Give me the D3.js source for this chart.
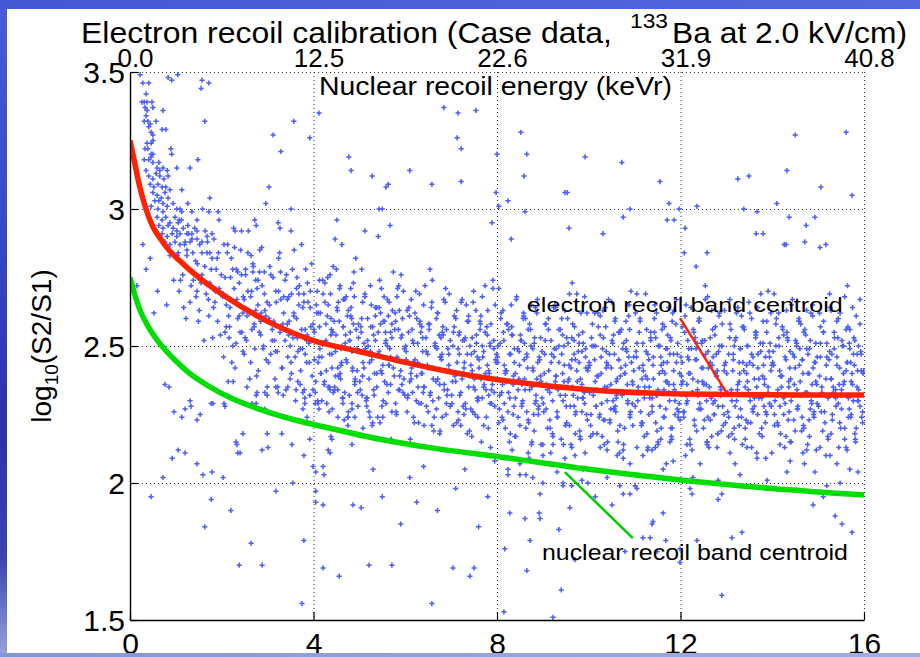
<!DOCTYPE html>
<html><head><meta charset="utf-8">
<script src="https://cdn.jsdelivr.net/npm/d3@7"></script>
<style>html,body{margin:0;padding:0;background:#fff;overflow:hidden}svg{display:block}text{font-family:"Liberation Sans",Arial,Helvetica,sans-serif;fill:#000}</style>
</head><body><svg id="c" width="920" height="657"></svg>
<script>
// ---------- data ----------
const xTicks=[0,4,8,12,16];
const xTickLabels=["0","4","8","12","16"];
const topTickLabels=["0.0","12.5","22.6","31.9","40.8"];
const yTicks=[1.5,2,2.5,3,3.5];
const yTickLabels=["1.5","2","2.5","3","3.5"];
const gridX=[4,8,12,16];
const gridY=[2,2.5,3,3.5];

const erCentroidX=[0,0.1,0.2,0.33,0.5,0.65,0.8,1.09,1.5,2,3,4,5,6,7,8.07,10,12,14,16];
const erCentroidY=[3.25,3.17,3.09,3.01,2.935,2.895,2.86,2.81,2.75,2.69,2.59,2.52,2.48,2.44,2.405,2.376,2.34,2.325,2.322,2.321];
const nrCentroidX=[0,0.1,0.22,0.4,0.6,0.8,1.0,1.3,1.7,2.2,2.9,3.64,4.36,5.23,6.5,8.07,10,12,14,16];
const nrCentroidY=[2.75,2.69,2.63,2.57,2.52,2.48,2.445,2.40,2.355,2.31,2.265,2.228,2.20,2.167,2.13,2.095,2.05,2.011,1.98,1.956];

const erLabel={text:"electron recoil band centroid",x:8.65,y:2.624,len:316,size:21};
const nrLabel={text:"nuclear recoil band centroid",x:8.98,y:1.719,len:306,size:22};
const erPointer=[[11.99,2.602],[13.01,2.328]];
const nrPointer=[[9.48,2.040],[10.96,1.799]];

const scatterRise=[[0.22,3.49],[0.28,3.46],[0.41,3.46],[0.35,3.42],[0.26,3.39],[0.31,3.39],[0.37,3.39],[0.48,3.39],[0.33,3.37],[0.37,3.36],[0.50,3.37],[0.35,3.34],[0.39,3.32],[0.31,3.32],[0.44,3.31],[0.57,3.32],[0.41,3.30],[0.46,3.28],[0.50,3.27],[0.37,3.24],[0.46,3.24],[0.50,3.25],[0.33,3.22],[0.39,3.22],[0.46,3.20],[0.50,3.20],[0.31,3.18],[0.41,3.18],[0.46,3.19],[0.50,3.17],[0.59,3.15],[0.63,3.17],[0.65,3.14],[0.72,3.15],[0.81,3.14],[0.35,3.14],[0.41,3.12],[0.50,3.11],[0.57,3.13],[0.65,3.12],[0.74,3.11],[0.83,3.12],[0.44,3.09],[0.52,3.08],[0.61,3.09],[0.70,3.08],[0.78,3.08],[0.87,3.07],[0.50,3.06],[0.59,3.05],[0.68,3.04],[0.76,3.06],[0.54,3.03],[0.63,3.03],[0.72,3.02],[0.83,3.04],[0.46,3.01],[0.61,3.00],[0.72,2.99],[0.81,3.01],[0.94,3.02],[1.02,3.00],[1.09,3.00],[1.13,2.99],[0.59,2.97],[0.70,2.96],[0.78,2.97],[0.87,2.95],[0.98,2.97],[1.07,2.96],[0.63,2.94],[0.72,2.93],[0.83,2.94],[0.94,2.93],[1.02,2.92],[1.16,2.93],[1.26,2.94],[1.35,2.99],[0.70,2.91],[0.81,2.90],[0.92,2.91],[1.02,2.90],[1.09,2.91],[1.24,2.91],[1.35,2.91],[1.46,2.92],[0.76,2.88],[0.87,2.87],[0.98,2.88],[1.09,2.87],[1.20,2.88],[1.31,2.88],[1.46,2.89],[1.57,2.88],[1.68,2.90],[1.79,2.91],[0.44,2.82],[0.87,2.83],[1.05,2.84],[1.24,2.83],[1.37,2.84],[1.57,2.84],[1.74,2.84],[1.90,2.82],[0.28,2.87],[0.15,2.72],[0.35,2.78],[0.60,2.70],[0.80,2.65],[0.95,2.74],[0.52,2.62]];

const scatterBandA=[[1.03,2.83],[1.07,2.70],[1.12,2.96],[1.15,2.76],[1.19,2.87],[1.22,2.60],[1.26,3.02],[1.29,2.78],[1.31,2.66],[1.35,2.89],[1.38,2.74],[1.41,2.93],[1.44,2.68],[1.47,2.80],[1.49,2.59],[1.52,2.87],[1.55,2.73],[1.58,3.00],[1.61,2.52],[1.63,2.79],[1.66,2.69],[1.69,2.88],[1.72,2.61],[1.74,2.73],[1.77,2.78],[1.80,2.53],[1.83,2.89],[1.85,2.66],[1.88,2.78],[1.91,2.59],[1.94,2.71],[1.97,2.54],[1.05,2.95],[1.17,2.64],[1.24,2.85],[1.33,2.72],[1.43,2.81],[1.51,2.63],[1.57,2.76],[1.64,2.92],[1.71,2.67],[1.79,2.82],[1.86,2.70],[1.93,2.84],[1.10,2.74],[1.28,2.91],[1.46,2.70],[1.68,2.84],[1.82,2.64],[1.99,2.76],
[2.03,2.69],[2.07,2.55],[2.12,2.84],[2.15,2.61],[2.19,2.75],[2.22,2.44],[2.26,2.93],[2.29,2.66],[2.31,2.51],[2.35,2.77],[2.38,2.61],[2.41,2.85],[2.44,2.55],[2.47,2.68],[2.49,2.47],[2.52,2.78],[2.55,2.61],[2.58,2.92],[2.61,2.38],[2.63,2.68],[2.66,2.56],[2.69,2.79],[2.72,2.49],[2.74,2.63],[2.77,2.71],[2.80,2.41],[2.83,2.85],[2.85,2.59],[2.88,2.72],[2.91,2.50],[2.94,2.63],[2.97,2.45],[2.05,2.87],[2.17,2.57],[2.24,2.78],[2.33,2.67],[2.43,2.76],[2.51,2.53],[2.57,2.70],[2.64,2.83],[2.71,2.57],[2.79,2.74],[2.86,2.62],[2.93,2.77],[2.10,2.65],[2.28,2.86],[2.46,2.62],[2.68,2.77],[2.82,2.55],[2.99,2.66],
[3.03,2.60],[3.07,2.47],[3.12,2.75],[3.15,2.52],[3.19,2.66],[3.22,2.35],[3.26,2.84],[3.29,2.57],[3.31,2.42],[3.35,2.68],[3.38,2.52],[3.41,2.76],[3.44,2.46],[3.47,2.59],[3.49,2.38],[3.52,2.69],[3.55,2.53],[3.58,2.85],[3.61,2.30],[3.63,2.60],[3.66,2.48],[3.69,2.72],[3.72,2.41],[3.74,2.56],[3.77,2.64],[3.80,2.34],[3.83,2.78],[3.85,2.52],[3.88,2.66],[3.91,2.44],[3.94,2.57],[3.97,2.39],[3.05,2.79],[3.17,2.48],[3.24,2.70],[3.33,2.58],[3.43,2.67],[3.51,2.44],[3.57,2.62],[3.64,2.75],[3.71,2.49],[3.79,2.66],[3.86,2.54],[3.93,2.70],[3.10,2.56],[3.28,2.77],[3.46,2.54],[3.68,2.69],[3.82,2.47],[3.99,2.58]];

const scatterBandB=[[4.02,2.45],[4.06,2.65],[4.09,2.30],[4.13,2.57],[4.16,2.40],[4.20,2.74],[4.23,2.36],[4.27,2.52],[4.30,2.61],[4.34,2.26],[4.37,2.69],[4.40,2.47],[4.42,2.55],[4.46,2.34],[4.50,2.78],[4.53,2.42],[4.56,2.59],[4.59,2.38],[4.62,2.50],[4.65,2.67],[4.67,2.23],[4.70,2.54],[4.73,2.44],[4.76,2.63],[4.78,2.32],[4.81,2.71],[4.84,2.48],[4.87,2.58],[4.90,2.37],[4.92,2.82],[4.95,2.41],[4.98,2.53],[4.04,2.29],[4.11,2.62],[4.18,2.46],[4.25,2.73],[4.32,2.35],[4.39,2.56],[4.48,2.39],[4.54,2.66],[4.60,2.43],[4.69,2.51],[4.75,2.21],[4.83,2.60],[4.89,2.68],[4.96,2.33],[4.14,2.49],[4.36,2.76],[4.58,2.40],[4.80,2.55],
[4.01,2.56],[4.05,2.37],[4.08,2.70],[4.12,2.46],[4.15,2.62],[4.18,2.30],[4.21,2.51],[4.25,2.66],[4.28,2.41],[4.31,2.75],[4.35,2.35],[4.38,2.54],[4.41,2.27],[4.45,2.59],[4.48,2.48],[4.51,2.64],[4.55,2.39],[4.58,2.72],[4.61,2.44],[4.65,2.57],[4.68,2.33],[4.71,2.68],[4.75,2.24],[4.78,2.52],[4.81,2.61],[4.85,2.42],[4.88,2.77],[4.91,2.38],[4.95,2.49],[4.98,2.58],
[5.03,2.57],[5.07,2.39],[5.12,2.69],[5.15,2.30],[5.19,2.50],[5.22,2.44],[5.26,2.65],[5.29,2.22],[5.31,2.54],[5.35,2.61],[5.38,2.35],[5.41,2.47],[5.44,2.74],[5.47,2.41],[5.49,2.28],[5.52,2.59],[5.55,2.37],[5.58,2.52],[5.61,2.67],[5.63,2.33],[5.66,2.49],[5.69,2.16],[5.72,2.63],[5.74,2.42],[5.77,2.56],[5.80,2.26],[5.83,2.71],[5.85,2.45],[5.88,2.34],[5.91,2.53],[5.94,2.60],[5.97,2.38],[5.05,2.78],[5.17,2.31],[5.24,2.48],[5.33,2.40],[5.43,2.64],[5.51,2.24],[5.57,2.55],[5.64,2.43],[5.71,2.58],[5.79,2.29],[5.86,2.72],[5.93,2.36],[5.10,2.51],[5.28,2.21],[5.46,2.62],[5.68,2.46],[5.82,2.68],[5.99,2.32],
[5.01,2.37],[5.05,2.60],[5.08,2.44],[5.12,2.68],[5.15,2.31],[5.18,2.52],[5.21,2.26],[5.25,2.57],[5.28,2.47],[5.31,2.34],[5.35,2.64],[5.38,2.40],[5.41,2.55],[5.45,2.22],[5.48,2.71],[5.51,2.43],[5.55,2.59],[5.58,2.29],[5.61,2.50],[5.65,2.66],[5.68,2.36],[5.71,2.53],[5.75,2.45],[5.78,2.62],[5.81,2.25],[5.85,2.56],[5.88,2.39],[5.91,2.76],[5.95,2.33],[5.98,2.49],
[6.02,2.45],[6.06,2.32],[6.09,2.61],[6.13,2.38],[6.16,2.52],[6.20,2.22],[6.23,2.70],[6.27,2.44],[6.30,2.29],[6.34,2.55],[6.37,2.40],[6.40,2.65],[6.42,2.35],[6.46,2.48],[6.50,2.26],[6.53,2.58],[6.56,2.42],[6.59,2.74],[6.62,2.19],[6.65,2.50],[6.67,2.37],[6.70,2.62],[6.73,2.31],[6.76,2.46],[6.78,2.53],[6.81,2.24],[6.84,2.67],[6.87,2.41],[6.90,2.56],[6.92,2.34],[6.95,2.47],[6.98,2.28],[6.04,2.63],[6.11,2.16],[6.18,2.51],[6.25,2.39],[6.32,2.59],[6.39,2.33],[6.48,2.43],[6.54,2.78],[6.60,2.30],[6.69,2.49],[6.75,2.36],[6.83,2.54],[6.89,2.25],[6.96,2.69],[6.14,2.42],[6.36,2.57],[6.58,2.21],[6.80,2.47],
[6.01,2.50],[6.05,2.31],[6.08,2.64],[6.12,2.40],[6.15,2.56],[6.18,2.24],[6.21,2.45],[6.25,2.60],[6.28,2.35],[6.31,2.69],[6.35,2.29],[6.38,2.48],[6.41,2.21],[6.45,2.53],[6.48,2.42],[6.51,2.58],[6.55,2.33],[6.58,2.66],[6.61,2.38],[6.65,2.51],[6.68,2.27],[6.71,2.62],[6.75,2.18],[6.78,2.46],[6.81,2.55],[6.85,2.36],[6.88,2.71],[6.91,2.32],[6.95,2.43],[6.98,2.52],
[7.03,2.37],[7.07,2.57],[7.12,2.22],[7.15,2.49],[7.19,2.32],[7.22,2.66],[7.26,2.28],[7.29,2.44],[7.31,2.53],[7.35,2.18],[7.38,2.61],[7.41,2.39],[7.44,2.47],[7.47,2.26],[7.49,2.70],[7.52,2.34],[7.55,2.51],[7.58,2.30],[7.61,2.42],[7.63,2.59],[7.66,2.15],[7.69,2.46],[7.72,2.36],[7.74,2.55],[7.77,2.24],[7.80,2.63],[7.83,2.40],[7.85,2.50],[7.88,2.29],[7.91,2.74],[7.94,2.33],[7.97,2.45],[7.05,2.21],[7.17,2.54],[7.24,2.38],[7.33,2.65],[7.43,2.27],[7.51,2.48],[7.57,2.31],[7.64,2.58],[7.71,2.35],[7.79,2.43],[7.86,2.13],[7.93,2.52],[7.10,2.60],[7.28,2.25],[7.46,2.41],[7.68,2.68],[7.82,2.32],[7.99,2.47],
[7.01,2.32],[7.05,2.55],[7.08,2.39],[7.12,2.63],[7.15,2.26],[7.18,2.47],[7.21,2.21],[7.25,2.52],[7.28,2.42],[7.31,2.29],[7.35,2.59],[7.38,2.35],[7.41,2.50],[7.45,2.17],[7.48,2.66],[7.51,2.38],[7.55,2.54],[7.58,2.24],[7.61,2.45],[7.65,2.61],[7.68,2.31],[7.71,2.48],[7.75,2.40],[7.78,2.57],[7.81,2.20],[7.85,2.51],[7.88,2.34],[7.91,2.71],[7.95,2.28],[7.98,2.44],
[8.02,2.50],[8.06,2.32],[8.09,2.62],[8.13,2.23],[8.16,2.43],[8.20,2.37],[8.23,2.58],[8.27,2.15],[8.30,2.47],[8.34,2.54],[8.37,2.28],[8.40,2.40],[8.42,2.67],[8.46,2.34],[8.50,2.21],[8.53,2.52],[8.56,2.30],[8.59,2.45],[8.62,2.60],[8.65,2.26],[8.67,2.42],[8.70,2.09],[8.73,2.56],[8.76,2.35],[8.78,2.49],[8.81,2.19],[8.84,2.64],[8.87,2.38],[8.90,2.27],[8.92,2.46],[8.95,2.53],[8.98,2.31],[8.04,2.71],[8.11,2.24],[8.18,2.41],[8.25,2.33],[8.32,2.57],[8.39,2.17],[8.48,2.48],[8.54,2.36],[8.60,2.51],[8.69,2.22],[8.75,2.65],[8.83,2.29],[8.89,2.44],[8.96,2.14],[8.14,2.55],[8.36,2.39],[8.58,2.61],[8.80,2.25],
[8.01,2.46],[8.05,2.27],[8.08,2.60],[8.12,2.36],[8.15,2.52],[8.18,2.20],[8.21,2.41],[8.25,2.56],[8.28,2.31],[8.31,2.65],[8.35,2.25],[8.38,2.44],[8.41,2.17],[8.45,2.49],[8.48,2.38],[8.51,2.54],[8.55,2.29],[8.58,2.62],[8.61,2.34],[8.65,2.47],[8.68,2.23],[8.71,2.58],[8.75,2.14],[8.78,2.42],[8.81,2.51],[8.85,2.32],[8.88,2.67],[8.91,2.28],[8.95,2.39],[8.98,2.48],
[9.03,2.40],[9.07,2.27],[9.12,2.56],[9.15,2.33],[9.19,2.47],[9.22,2.17],[9.26,2.65],[9.29,2.39],[9.31,2.24],[9.35,2.50],[9.38,2.35],[9.41,2.60],[9.44,2.30],[9.47,2.43],[9.49,2.21],[9.52,2.53],[9.55,2.37],[9.58,2.69],[9.61,2.14],[9.63,2.45],[9.66,2.32],[9.69,2.57],[9.72,2.26],[9.74,2.41],[9.77,2.48],[9.80,2.19],[9.83,2.62],[9.85,2.36],[9.88,2.51],[9.91,2.29],[9.94,2.42],[9.97,2.23],[9.05,2.58],[9.17,2.11],[9.24,2.46],[9.33,2.34],[9.43,2.54],[9.51,2.28],[9.57,2.38],[9.64,2.73],[9.71,2.25],[9.79,2.44],[9.86,2.31],[9.93,2.49],[9.10,2.20],[9.28,2.64],[9.46,2.37],[9.68,2.52],[9.82,2.16],[9.99,2.42],
[9.01,2.29],[9.05,2.52],[9.08,2.36],[9.12,2.60],[9.15,2.23],[9.18,2.44],[9.21,2.18],[9.25,2.49],[9.28,2.39],[9.31,2.26],[9.35,2.56],[9.38,2.32],[9.41,2.47],[9.45,2.14],[9.48,2.63],[9.51,2.35],[9.55,2.51],[9.58,2.21],[9.61,2.42],[9.65,2.58],[9.68,2.28],[9.71,2.45],[9.75,2.37],[9.78,2.54],[9.81,2.17],[9.85,2.48],[9.88,2.31],[9.91,2.68],[9.95,2.25],[9.98,2.41]];

const scatterBandC=[[10.02,2.33],[10.06,2.53],[10.09,2.18],[10.13,2.45],[10.16,2.28],[10.20,2.62],[10.23,2.24],[10.27,2.40],[10.30,2.49],[10.34,2.14],[10.37,2.57],[10.40,2.35],[10.42,2.43],[10.46,2.22],[10.50,2.66],[10.53,2.30],[10.56,2.47],[10.59,2.26],[10.62,2.38],[10.65,2.55],[10.67,2.11],[10.70,2.42],[10.73,2.32],[10.76,2.51],[10.78,2.20],[10.81,2.59],[10.84,2.36],[10.87,2.46],[10.90,2.25],[10.92,2.70],[10.95,2.29],[10.98,2.41],[10.04,2.17],[10.11,2.50],[10.18,2.34],[10.25,2.61],[10.32,2.23],[10.39,2.44],[10.48,2.27],[10.54,2.54],[10.60,2.31],[10.69,2.39],[10.75,2.09],[10.83,2.48],[10.89,2.56],[10.96,2.21],[10.14,2.37],[10.36,2.64],[10.58,2.28],[10.80,2.43],
[10.01,2.44],[10.05,2.25],[10.08,2.58],[10.12,2.34],[10.15,2.50],[10.18,2.18],[10.21,2.39],[10.25,2.54],[10.28,2.29],[10.31,2.63],[10.35,2.23],[10.38,2.42],[10.41,2.15],[10.45,2.47],[10.48,2.36],[10.51,2.52],[10.55,2.27],[10.58,2.60],[10.61,2.32],[10.65,2.45],[10.68,2.21],[10.71,2.56],[10.75,2.12],[10.78,2.40],[10.81,2.49],[10.85,2.30],[10.88,2.65],[10.91,2.26],[10.95,2.37],[10.98,2.46],
[11.03,2.48],[11.07,2.30],[11.12,2.60],[11.15,2.21],[11.19,2.41],[11.22,2.35],[11.26,2.56],[11.29,2.13],[11.31,2.45],[11.35,2.52],[11.38,2.26],[11.41,2.38],[11.44,2.65],[11.47,2.32],[11.49,2.19],[11.52,2.50],[11.55,2.28],[11.58,2.43],[11.61,2.58],[11.63,2.24],[11.66,2.40],[11.69,2.07],[11.72,2.54],[11.74,2.33],[11.77,2.47],[11.80,2.17],[11.83,2.62],[11.85,2.36],[11.88,2.25],[11.91,2.44],[11.94,2.51],[11.97,2.29],[11.05,2.69],[11.17,2.22],[11.24,2.39],[11.33,2.31],[11.43,2.55],[11.51,2.15],[11.57,2.46],[11.64,2.34],[11.71,2.49],[11.79,2.20],[11.86,2.63],[11.93,2.27],[11.10,2.42],[11.28,2.12],[11.46,2.53],[11.68,2.37],[11.82,2.59],[11.99,2.23],
[11.01,2.28],[11.05,2.51],[11.08,2.35],[11.12,2.59],[11.15,2.22],[11.18,2.43],[11.21,2.17],[11.25,2.48],[11.28,2.38],[11.31,2.25],[11.35,2.55],[11.38,2.31],[11.41,2.46],[11.45,2.13],[11.48,2.62],[11.51,2.34],[11.55,2.50],[11.58,2.20],[11.61,2.41],[11.65,2.57],[11.68,2.27],[11.71,2.44],[11.75,2.36],[11.78,2.53],[11.81,2.16],[11.85,2.47],[11.88,2.30],[11.91,2.67],[11.95,2.24],[11.98,2.40],
[12.02,2.39],[12.06,2.26],[12.09,2.55],[12.13,2.32],[12.16,2.46],[12.20,2.16],[12.23,2.64],[12.27,2.38],[12.30,2.23],[12.34,2.49],[12.37,2.34],[12.40,2.59],[12.42,2.29],[12.46,2.42],[12.50,2.20],[12.53,2.52],[12.56,2.36],[12.59,2.68],[12.62,2.13],[12.65,2.44],[12.67,2.31],[12.70,2.56],[12.73,2.25],[12.76,2.40],[12.78,2.47],[12.81,2.18],[12.84,2.61],[12.87,2.35],[12.90,2.50],[12.92,2.28],[12.95,2.41],[12.98,2.22],[12.04,2.57],[12.11,2.10],[12.18,2.45],[12.25,2.33],[12.32,2.53],[12.39,2.27],[12.48,2.37],[12.54,2.72],[12.60,2.24],[12.69,2.43],[12.75,2.30],[12.83,2.48],[12.89,2.19],[12.96,2.63],[12.14,2.36],[12.36,2.51],[12.58,2.15],[12.80,2.41],
[12.01,2.46],[12.05,2.37],[12.08,2.26],[12.12,2.65],[12.15,2.30],[12.18,2.49],[12.21,2.40],[12.25,2.12],[12.28,2.56],[12.31,2.21],[12.35,2.45],[12.38,2.32],[12.41,2.60],[12.45,2.27],[12.48,2.52],[12.51,2.36],[12.55,2.47],[12.58,2.15],[12.61,2.42],[12.65,2.23],[12.68,2.63],[12.71,2.29],[12.75,2.54],[12.78,2.39],[12.81,2.18],[12.85,2.50],[12.88,2.34],[12.91,2.58],[12.95,2.25],[12.98,2.44],
[13.03,2.33],[13.07,2.53],[13.12,2.18],[13.15,2.45],[13.19,2.28],[13.22,2.62],[13.26,2.24],[13.29,2.40],[13.31,2.49],[13.35,2.14],[13.38,2.57],[13.41,2.35],[13.44,2.43],[13.47,2.22],[13.49,2.66],[13.52,2.30],[13.55,2.47],[13.58,2.26],[13.61,2.38],[13.63,2.55],[13.66,2.11],[13.69,2.42],[13.72,2.32],[13.74,2.51],[13.77,2.20],[13.80,2.59],[13.83,2.36],[13.85,2.46],[13.88,2.25],[13.91,2.70],[13.94,2.29],[13.97,2.41],[13.05,2.17],[13.17,2.50],[13.24,2.34],[13.33,2.61],[13.43,2.23],[13.51,2.44],[13.57,2.27],[13.64,2.54],[13.71,2.31],[13.79,2.39],[13.86,2.09],[13.93,2.48],[13.10,2.56],[13.28,2.21],[13.46,2.37],[13.68,2.64],[13.82,2.28],[13.99,2.43],
[13.01,2.40],[13.05,2.24],[13.08,2.67],[13.12,2.30],[13.15,2.47],[13.18,2.16],[13.21,2.53],[13.25,2.36],[13.28,2.44],[13.31,2.27],[13.35,2.57],[13.38,2.41],[13.41,2.20],[13.45,2.50],[13.48,2.34],[13.51,2.62],[13.55,2.13],[13.58,2.46],[13.61,2.31],[13.65,2.55],[13.68,2.25],[13.71,2.38],[13.75,2.48],[13.78,2.17],[13.81,2.43],[13.85,2.22],[13.88,2.59],[13.91,2.35],[13.95,2.51],[13.98,2.28],
[14.02,2.48],[14.06,2.30],[14.09,2.60],[14.13,2.21],[14.16,2.41],[14.20,2.35],[14.23,2.56],[14.27,2.13],[14.30,2.45],[14.34,2.52],[14.37,2.26],[14.40,2.38],[14.42,2.65],[14.46,2.32],[14.50,2.19],[14.53,2.50],[14.56,2.28],[14.59,2.43],[14.62,2.58],[14.65,2.24],[14.67,2.40],[14.70,2.07],[14.73,2.54],[14.76,2.33],[14.78,2.47],[14.81,2.17],[14.84,2.62],[14.87,2.36],[14.90,2.25],[14.92,2.44],[14.95,2.51],[14.98,2.29],[14.04,2.69],[14.11,2.22],[14.18,2.39],[14.25,2.31],[14.32,2.55],[14.39,2.15],[14.48,2.46],[14.54,2.34],[14.60,2.49],[14.69,2.20],[14.75,2.63],[14.83,2.27],[14.89,2.42],[14.96,2.12],[14.14,2.53],[14.36,2.37],[14.58,2.59],[14.80,2.23],
[14.01,2.44],[14.05,2.25],[14.08,2.58],[14.12,2.34],[14.15,2.50],[14.18,2.18],[14.21,2.39],[14.25,2.54],[14.28,2.29],[14.31,2.63],[14.35,2.23],[14.38,2.42],[14.41,2.15],[14.45,2.47],[14.48,2.36],[14.51,2.52],[14.55,2.27],[14.58,2.60],[14.61,2.32],[14.65,2.45],[14.68,2.21],[14.71,2.56],[14.75,2.12],[14.78,2.40],[14.81,2.49],[14.85,2.30],[14.88,2.65],[14.91,2.26],[14.95,2.37],[14.98,2.46],
[15.03,2.39],[15.07,2.26],[15.12,2.55],[15.15,2.32],[15.19,2.46],[15.22,2.16],[15.26,2.64],[15.29,2.38],[15.31,2.23],[15.35,2.49],[15.38,2.34],[15.41,2.59],[15.44,2.29],[15.47,2.42],[15.49,2.20],[15.52,2.52],[15.55,2.36],[15.58,2.68],[15.61,2.13],[15.63,2.44],[15.66,2.31],[15.69,2.56],[15.72,2.25],[15.74,2.40],[15.77,2.47],[15.80,2.18],[15.83,2.61],[15.85,2.35],[15.88,2.50],[15.91,2.28],[15.94,2.41],[15.97,2.22],[15.05,2.57],[15.17,2.10],[15.24,2.45],[15.33,2.33],[15.43,2.53],[15.51,2.27],[15.57,2.37],[15.64,2.72],[15.71,2.24],[15.79,2.43],[15.86,2.30],[15.93,2.48],[15.10,2.19],[15.28,2.63],[15.46,2.36],[15.68,2.51],[15.82,2.15],[15.99,2.41],
[15.01,2.28],[15.05,2.51],[15.08,2.35],[15.12,2.59],[15.15,2.22],[15.18,2.43],[15.21,2.17],[15.25,2.48],[15.28,2.38],[15.31,2.25],[15.35,2.55],[15.38,2.31],[15.41,2.46],[15.45,2.13],[15.48,2.62],[15.51,2.34],[15.55,2.50],[15.58,2.20],[15.61,2.41],[15.65,2.57],[15.68,2.27],[15.71,2.44],[15.75,2.36],[15.78,2.53],[15.81,2.16],[15.85,2.47],[15.88,2.30],[15.91,2.67],[15.95,2.24],[15.98,2.40]];

const scatterBandD=[[2.02,2.68],[2.04,2.46],[2.07,2.75],[2.10,2.57],[2.13,2.87],[2.16,2.53],[2.18,2.64],[2.21,2.82],[2.24,2.50],[2.27,2.71],[2.29,2.42],[2.32,2.78],[2.35,2.60],[2.38,2.73],[2.40,2.55],[2.43,2.92],[2.46,2.48],[2.49,2.67],[2.52,2.76],[2.54,2.52],[2.57,2.84],[2.60,2.62],[2.63,2.44],[2.65,2.70],[2.68,2.80],[2.71,2.58],[2.74,2.74],[2.76,2.39],[2.79,2.65],[2.82,2.77],[2.85,2.54],[2.87,2.86],[2.90,2.49],[2.93,2.69],[2.96,2.61],
[3.02,2.44],[3.04,2.65],[3.07,2.76],[3.10,2.52],[3.13,2.59],[3.16,2.38],[3.18,2.70],[3.21,2.48],[3.24,2.82],[3.27,2.55],[3.29,2.67],[3.32,2.42],[3.35,2.62],[3.38,2.74],[3.40,2.34],[3.43,2.58],[3.46,2.68],[3.49,2.50],[3.52,2.40],[3.54,2.78],[3.57,2.61],[3.60,2.46],[3.63,2.71],[3.65,2.53],[3.68,2.65],[3.71,2.36],[3.74,2.87],[3.76,2.49],[3.79,2.69],[3.82,2.56],[3.85,2.44],[3.87,2.73],[3.90,2.51],[3.93,2.64],[3.96,2.80],
[4.02,2.55],[4.04,2.33],[4.07,2.62],[4.10,2.44],[4.13,2.74],[4.16,2.40],[4.18,2.51],[4.21,2.69],[4.24,2.37],[4.27,2.58],[4.29,2.29],[4.32,2.65],[4.35,2.47],[4.38,2.60],[4.40,2.42],[4.43,2.79],[4.46,2.35],[4.49,2.54],[4.52,2.63],[4.54,2.39],[4.57,2.71],[4.60,2.49],[4.63,2.31],[4.65,2.57],[4.68,2.67],[4.71,2.45],[4.74,2.61],[4.76,2.26],[4.79,2.52],[4.82,2.64],[4.85,2.41],[4.87,2.73],[4.90,2.36],[4.93,2.56],[4.96,2.48],
[5.02,2.34],[5.04,2.55],[5.07,2.66],[5.10,2.42],[5.13,2.49],[5.16,2.28],[5.18,2.60],[5.21,2.38],[5.24,2.72],[5.27,2.45],[5.29,2.57],[5.32,2.32],[5.35,2.52],[5.38,2.64],[5.40,2.24],[5.43,2.48],[5.46,2.58],[5.49,2.40],[5.52,2.30],[5.54,2.68],[5.57,2.51],[5.60,2.36],[5.63,2.61],[5.65,2.43],[5.68,2.55],[5.71,2.26],[5.74,2.77],[5.76,2.39],[5.79,2.59],[5.82,2.46],[5.85,2.34],[5.87,2.63],[5.90,2.41],[5.93,2.54],[5.96,2.70],
[6.02,2.48],[6.04,2.26],[6.07,2.55],[6.10,2.37],[6.13,2.67],[6.16,2.33],[6.18,2.44],[6.21,2.62],[6.24,2.30],[6.27,2.51],[6.29,2.22],[6.32,2.58],[6.35,2.40],[6.38,2.53],[6.40,2.35],[6.43,2.72],[6.46,2.28],[6.49,2.47],[6.52,2.56],[6.54,2.32],[6.57,2.64],[6.60,2.42],[6.63,2.24],[6.65,2.50],[6.68,2.60],[6.71,2.38],[6.74,2.54],[6.76,2.19],[6.79,2.45],[6.82,2.57],[6.85,2.34],[6.87,2.66],[6.90,2.29],[6.93,2.49],[6.96,2.41],
[7.02,2.29],[7.04,2.50],[7.07,2.61],[7.10,2.37],[7.13,2.44],[7.16,2.23],[7.18,2.55],[7.21,2.33],[7.24,2.67],[7.27,2.40],[7.29,2.52],[7.32,2.27],[7.35,2.47],[7.38,2.59],[7.40,2.19],[7.43,2.43],[7.46,2.53],[7.49,2.35],[7.52,2.25],[7.54,2.63],[7.57,2.46],[7.60,2.31],[7.63,2.56],[7.65,2.38],[7.68,2.50],[7.71,2.21],[7.74,2.72],[7.76,2.34],[7.79,2.54],[7.82,2.41],[7.85,2.29],[7.87,2.58],[7.90,2.36],[7.93,2.49],[7.96,2.65],
[8.02,2.44],[8.04,2.22],[8.07,2.51],[8.10,2.33],[8.13,2.63],[8.16,2.29],[8.18,2.40],[8.21,2.58],[8.24,2.26],[8.27,2.47],[8.29,2.18],[8.32,2.54],[8.35,2.36],[8.38,2.49],[8.40,2.31],[8.43,2.68],[8.46,2.24],[8.49,2.43],[8.52,2.52],[8.54,2.28],[8.57,2.60],[8.60,2.38],[8.63,2.20],[8.65,2.46],[8.68,2.56],[8.71,2.34],[8.74,2.50],[8.76,2.15],[8.79,2.41],[8.82,2.53],[8.85,2.30],[8.87,2.62],[8.90,2.25],[8.93,2.45],[8.96,2.37],
[9.02,2.26],[9.04,2.47],[9.07,2.58],[9.10,2.34],[9.13,2.41],[9.16,2.20],[9.18,2.52],[9.21,2.30],[9.24,2.64],[9.27,2.37],[9.29,2.49],[9.32,2.24],[9.35,2.44],[9.38,2.56],[9.40,2.16],[9.43,2.40],[9.46,2.50],[9.49,2.32],[9.52,2.22],[9.54,2.60],[9.57,2.43],[9.60,2.28],[9.63,2.53],[9.65,2.35],[9.68,2.47],[9.71,2.18],[9.74,2.69],[9.76,2.31],[9.79,2.51],[9.82,2.38],[9.85,2.26],[9.87,2.55],[9.90,2.33],[9.93,2.46],[9.96,2.62],
[10.02,2.43],[10.04,2.21],[10.07,2.50],[10.10,2.32],[10.13,2.62],[10.16,2.28],[10.18,2.39],[10.21,2.57],[10.24,2.25],[10.27,2.46],[10.29,2.17],[10.32,2.53],[10.35,2.35],[10.38,2.48],[10.40,2.30],[10.43,2.67],[10.46,2.23],[10.49,2.42],[10.52,2.51],[10.54,2.27],[10.57,2.59],[10.60,2.37],[10.63,2.19],[10.65,2.45],[10.68,2.55],[10.71,2.33],[10.74,2.49],[10.76,2.14],[10.79,2.40],[10.82,2.52],[10.85,2.29],[10.87,2.61],[10.90,2.24],[10.93,2.44],[10.96,2.36],
[11.02,2.62],[11.04,2.46],[11.07,2.33],[11.10,2.55],[11.13,2.26],[11.16,2.38],[11.18,2.51],[11.21,2.31],[11.24,2.69],[11.27,2.18],[11.29,2.47],[11.32,2.35],[11.35,2.53],[11.38,2.28],[11.40,2.43],[11.43,2.60],[11.46,2.22],[11.49,2.32],[11.52,2.50],[11.54,2.40],[11.57,2.16],[11.60,2.56],[11.63,2.44],[11.65,2.24],[11.68,2.49],[11.71,2.37],[11.74,2.64],[11.76,2.30],[11.79,2.52],[11.82,2.20],[11.85,2.41],[11.87,2.34],[11.90,2.58],[11.93,2.47],[11.96,2.26],
[12.02,2.36],[12.04,2.44],[12.07,2.24],[12.10,2.61],[12.13,2.29],[12.16,2.52],[12.18,2.40],[12.21,2.14],[12.24,2.49],[12.27,2.33],[12.29,2.55],[12.32,2.45],[12.35,2.19],[12.38,2.37],[12.40,2.59],[12.43,2.27],[12.46,2.51],[12.49,2.42],[12.52,2.23],[12.54,2.67],[12.57,2.30],[12.60,2.48],[12.63,2.35],[12.65,2.53],[12.68,2.17],[12.71,2.46],[12.74,2.25],[12.76,2.57],[12.79,2.39],[12.82,2.28],[12.85,2.62],[12.87,2.32],[12.90,2.50],[12.93,2.21],[12.96,2.43],
[13.03,2.26],[13.05,2.47],[13.08,2.58],[13.11,2.34],[13.14,2.41],[13.17,2.20],[13.19,2.52],[13.22,2.30],[13.25,2.64],[13.28,2.37],[13.30,2.49],[13.33,2.24],[13.36,2.44],[13.39,2.56],[13.41,2.16],[13.44,2.40],[13.47,2.50],[13.50,2.32],[13.53,2.22],[13.55,2.60],[13.58,2.43],[13.61,2.28],[13.64,2.53],[13.66,2.35],[13.69,2.47],[13.72,2.18],[13.75,2.69],[13.77,2.31],[13.80,2.51],[13.83,2.38],[13.86,2.26],[13.88,2.55],[13.91,2.33],[13.94,2.46],[13.97,2.62],
[14.03,2.43],[14.05,2.21],[14.08,2.50],[14.11,2.32],[14.14,2.62],[14.17,2.28],[14.19,2.39],[14.22,2.57],[14.25,2.25],[14.28,2.46],[14.30,2.17],[14.33,2.53],[14.36,2.35],[14.39,2.48],[14.41,2.30],[14.44,2.67],[14.47,2.23],[14.50,2.42],[14.53,2.51],[14.55,2.27],[14.58,2.59],[14.61,2.37],[14.64,2.19],[14.66,2.45],[14.69,2.55],[14.72,2.33],[14.75,2.49],[14.77,2.14],[14.80,2.40],[14.83,2.52],[14.86,2.29],[14.88,2.61],[14.91,2.24],[14.94,2.44],[14.97,2.36],
[15.03,2.62],[15.05,2.46],[15.08,2.33],[15.11,2.55],[15.14,2.26],[15.17,2.38],[15.19,2.51],[15.22,2.31],[15.25,2.69],[15.28,2.18],[15.30,2.47],[15.33,2.35],[15.36,2.53],[15.39,2.28],[15.41,2.43],[15.44,2.60],[15.47,2.22],[15.50,2.32],[15.53,2.50],[15.55,2.40],[15.58,2.16],[15.61,2.56],[15.64,2.44],[15.66,2.24],[15.69,2.49],[15.72,2.37],[15.75,2.64],[15.77,2.30],[15.80,2.52],[15.83,2.20],[15.86,2.41],[15.88,2.34],[15.91,2.58],[15.94,2.47],[15.97,2.26]];

const scatterAbove=[[6.84,3.37],[7.15,3.35],[7.54,3.36],[4.77,3.19],[4.82,3.14],[5.28,3.12],[5.58,3.08],[5.63,3.09],[6.10,3.14],[6.58,3.09],[7.13,3.26],[7.22,3.22],[7.22,3.10],[5.43,3.00],[5.50,3.00],[4.51,2.96],[5.67,2.94],[5.12,2.92],[5.41,2.90],[4.47,2.89],[4.62,2.87],[7.89,2.95],[8.52,3.28],[8.65,3.20],[8.59,3.12],[8.00,3.20],[9.92,3.19],[10.72,3.17],[9.48,3.06],[9.53,3.06],[11.55,3.10],[8.24,3.03],[7.98,3.06],[8.04,3.01],[11.75,3.02],[8.61,2.99],[10.90,3.00],[10.75,2.97],[9.57,2.93],[11.71,2.96],[11.86,2.96],[8.31,2.89],[10.31,2.91],[11.97,3.00],[12.36,3.01],[12.10,2.93],[13.25,3.11],[13.49,3.12],[14.50,3.27],[15.61,3.28],[14.32,3.14],[15.06,3.08],[15.74,3.05],[13.38,3.00],[13.67,2.99],[14.10,3.02],[14.37,2.97],[14.93,2.97],[14.74,2.94],[13.65,2.91],[13.80,2.91],[14.26,2.87],[14.30,2.87],[14.71,2.88],[15.04,2.86],[15.17,2.87],[12.08,2.84],[12.58,2.84],[12.34,2.79],
[0.83,3.48],[0.91,3.47],[1.04,3.49],[1.57,3.47],[1.72,3.46],[1.55,3.44],[1.63,3.32],[0.72,3.36],[0.70,3.29],[0.78,3.29],[0.89,3.22],[0.91,3.20],[1.31,3.15],[1.48,3.18],[1.74,3.04],[1.13,3.07],[1.02,3.15],[3.03,3.08],[2.96,3.02],[3.51,3.00],[3.12,3.27],[3.29,3.21],[3.57,3.32],[3.92,3.26],[4.12,3.35],[3.23,2.95],[3.27,2.93],[3.51,2.92],[2.72,2.96],[2.75,2.94],[2.29,2.92],[1.94,2.96],[1.92,2.99],[1.72,2.99],[1.46,2.96]];

const scatterBelow=[[0.76,2.36],[0.85,2.35],[0.96,2.26],[1.13,2.24],[1.20,2.27],[1.31,2.30],[1.33,2.28],[1.46,2.23],[1.53,2.25],[1.77,2.29],[1.81,2.29],[2.05,2.29],[2.07,2.28],[2.46,2.18],[2.31,2.15],[2.33,2.14],[2.35,2.11],[2.40,2.11],[1.05,2.12],[1.20,2.11],[0.92,2.09],[1.46,2.07],[1.59,2.03],[1.79,2.04],[2.03,2.02],[0.72,2.02],[0.46,1.95],[1.77,1.94],[2.20,1.90],[1.63,1.84],[2.64,1.78],[2.38,1.70],[2.88,1.70],[2.99,2.18],[3.31,2.18],[2.88,2.12],[3.01,2.13],[3.53,2.14],[3.79,2.10],[3.92,2.16],[3.99,2.06],[4.05,2.04],[4.21,2.06],[4.23,2.03],[3.55,2.00],[3.18,1.97],[4.05,1.97],[4.05,1.93],[4.21,1.92],[4.86,1.92],[5.04,1.91],[3.79,1.79],[4.21,1.69],[4.56,1.66],[3.75,1.56],[4.32,2.12],[4.36,2.11],[4.38,2.17],[4.40,2.16],[4.84,2.14],[5.08,2.20],
[2.14,2.37],[2.25,2.37],[2.55,2.35],[2.77,2.33],[2.75,2.32],[2.94,2.33],[2.99,2.35],[2.99,2.32],[2.66,2.29],[2.75,2.29],[2.94,2.27],[3.18,2.35],[3.23,2.33],[3.34,2.32],[3.44,2.35],[3.62,2.34],[3.66,2.37],[3.77,2.33],[3.81,2.31],[3.81,2.29],[3.77,2.27],[3.92,2.32],[3.99,2.34],[4.10,2.29],[4.12,2.27],[3.86,2.24],[4.36,2.34],[4.43,2.33],[4.53,2.34],[4.64,2.31],[4.64,2.29],[4.84,2.29],[4.84,2.27],[4.97,2.28],[5.06,2.32],[4.53,2.24],[4.75,2.24],[4.90,2.24],[5.23,2.24],
[8.28,1.89],[8.92,1.89],[8.94,1.87],[9.35,1.83],[8.72,1.79],[8.17,1.76],[8.65,1.68],[9.59,1.91],[9.44,1.99],[8.94,1.96],[9.98,2.00],[10.14,1.95],[10.51,1.92],[10.75,1.96],[11.05,1.98],[10.90,1.96],[11.62,1.89],[11.40,1.86],[11.38,1.85],[11.18,1.80],[11.34,1.80],[11.68,1.79],[12.36,1.79],[13.12,1.80],[13.34,1.82],[12.21,1.98],[12.25,1.96],[12.82,1.94],[12.90,1.96],[14.89,1.92],[15.11,1.95],[15.37,1.88],[15.52,1.85],[15.74,1.82],[10.79,1.75],[11.99,1.76],[11.99,1.71],[11.49,1.75],[8.24,2.03],[8.50,2.03],[8.63,2.03],[9.00,2.00],[9.44,2.00],[9.63,1.99],[9.85,2.01],[10.68,1.99],[11.01,1.99],[9.00,2.10],[8.61,1.87],[7.50,1.69],[9.22,1.51],[12.90,1.59],[5.21,1.70],[5.71,1.70],[6.58,1.56],[7.04,1.69],[7.41,1.66],[8.15,1.53],[9.40,1.61],[9.70,1.72],
[5.50,1.95],[6.10,2.02],[6.70,1.90],[7.10,1.98],[7.60,1.84],[5.90,1.85],[6.40,2.06],[7.30,2.05],[7.80,1.95],[5.30,2.05],[6.25,1.93],[7.95,2.08],
[9.00,2.14],[9.22,2.14],[9.63,2.13],[9.70,2.10],[9.48,2.09],[9.92,2.11],[10.25,2.13],[10.40,2.12],[10.64,2.15],[10.62,2.10],[11.05,2.13],[11.18,2.10],[11.38,2.12],[11.51,2.14],[11.77,2.15],[11.84,2.08],[12.14,2.14],[12.43,2.07],[12.58,2.14],[12.80,2.13],[13.08,2.11],[13.19,2.07],[13.45,2.13],[13.67,2.09],[13.99,2.11],[14.17,2.14],[14.39,2.08],[14.67,2.11],[14.93,2.04],[15.04,2.13],[15.26,2.10],[15.41,2.07],[15.63,2.12],[15.69,2.05],[15.87,2.04],[8.24,2.05],[8.50,2.07],[8.68,2.11],[8.33,2.12],[8.78,2.02],[9.31,2.04],[9.87,2.05],[10.40,2.02],[10.90,2.07],[11.62,2.05],[12.27,2.02],[12.82,2.01],[13.30,2.03],[13.89,2.01],[14.32,2.04],[15.19,1.99],[15.48,2.00]];

// ---------- drawing ----------
const W=920,H=657;
const svg=d3.select("#c");
const x=d3.scaleLinear().domain([0,16]).range([130,864]);
const y=d3.scaleLinear().domain([1.5,3.5]).range([620,72]);

const defs=svg.append("defs");
const side=defs.append("linearGradient").attr("id","side").attr("x1",0).attr("y1",0).attr("x2",0).attr("y2",1);
[[0,"#4b5cd8"],[0.35,"#3848c6"],[0.65,"#2c32a8"],[0.85,"#3a44b0"],[1,"#98a5dc"]].forEach(s=>side.append("stop").attr("offset",s[0]).attr("stop-color",s[1]));
const topG=defs.append("linearGradient").attr("id","topG").attr("x1",0).attr("y1",0).attr("x2",1).attr("y2",0);
[[0,"#4557d3"],[0.5,"#4d60da"],[1,"#5467dc"]].forEach(s=>topG.append("stop").attr("offset",s[0]).attr("stop-color",s[1]));
const botG=defs.append("linearGradient").attr("id","botG").attr("x1",0).attr("y1",0).attr("x2",1).attr("y2",0);
[[0,"#8594d4"],[1,"#a2aee0"]].forEach(s=>botG.append("stop").attr("offset",s[0]).attr("stop-color",s[1]));
defs.append("clipPath").attr("id","plotClip").append("rect")
  .attr("x",x(0)).attr("y",y(3.5)-1).attr("width",x(16)-x(0)+1).attr("height",y(1.5)-y(3.5)+1);

svg.append("rect").attr("width",W).attr("height",H).attr("fill","url(#side)");
svg.append("rect").attr("x",7).attr("y",9).attr("width",W-7).attr("height",644).attr("fill","#fff");
svg.append("rect").attr("x",0).attr("y",0).attr("width",W).attr("height",9).attr("fill","url(#topG)");

// grid
const grid=svg.append("g").attr("stroke","#333").attr("stroke-width",1).attr("stroke-dasharray","1,3");
grid.selectAll("line.gx").data(gridX).join("line")
  .attr("x1",d=>x(d)+0.5).attr("x2",d=>x(d)+0.5).attr("y1",y(3.5)).attr("y2",y(1.5));
grid.selectAll("line.gy").data(gridY).join("line")
  .attr("x1",x(0)).attr("x2",x(16)).attr("y1",d=>y(d)+0.5).attr("y2",d=>y(d)+0.5);

// scatter
const plot=svg.append("g").attr("clip-path","url(#plotClip)");
const allPts=[].concat(scatterRise,scatterBandA,scatterBandB,scatterBandC,scatterBandD,scatterAbove,scatterBelow);
plot.append("g").attr("stroke","#4d5ef6").attr("stroke-width",1.5).attr("fill","none")
  .selectAll("path").data(allPts).join("path")
  .attr("transform",d=>`translate(${x(d[0]).toFixed(1)},${y(d[1]).toFixed(1)})`)
  .attr("d","M-2.6,0H2.6M0,-2.6V2.6");

// centroid curves
const line=d3.line().x(d=>x(d[0])).y(d=>y(d[1])).curve(d3.curveMonotoneX);
const erData=erCentroidX.map((v,i)=>[v,erCentroidY[i]]);
const nrData=nrCentroidX.map((v,i)=>[v,nrCentroidY[i]]);
plot.append("path").datum(nrData).attr("d",line).attr("fill","none").attr("stroke","#00dd00").attr("stroke-width",5.5);
plot.append("path").datum(erData).attr("d",line).attr("fill","none").attr("stroke","#ff2200").attr("stroke-width",5.5);

// pointers
svg.append("line").attr("x1",x(erPointer[0][0])).attr("y1",y(erPointer[0][1])).attr("x2",x(erPointer[1][0])).attr("y2",y(erPointer[1][1])).attr("stroke","#ff2200").attr("stroke-width",2.5);
svg.append("line").attr("x1",x(nrPointer[0][0])).attr("y1",y(nrPointer[0][1])).attr("x2",x(nrPointer[1][0])).attr("y2",y(nrPointer[1][1])).attr("stroke","#00cc00").attr("stroke-width",2.5);

// annotations
[erLabel,nrLabel].forEach(l=>{
  svg.append("text").attr("x",x(l.x)).attr("y",y(l.y)).attr("font-size",l.size)
    .attr("textLength",l.len).attr("lengthAdjust","spacingAndGlyphs").text(l.text);
});

// axes
const bottom=svg.append("g").attr("transform",`translate(0,${y(1.5)})`)
  .call(d3.axisBottom(x).tickValues(xTicks).tickFormat((d,i)=>xTickLabels[i]).tickSizeInner(-8).tickSizeOuter(0).tickPadding(13));
const left=svg.append("g").attr("transform",`translate(${x(0)},0)`)
  .call(d3.axisLeft(y).tickValues(yTicks).tickFormat((d,i)=>yTickLabels[i]).tickSizeInner(-8).tickSizeOuter(0).tickPadding(5));
const topAx=svg.append("g").attr("transform",`translate(0,${y(3.5)})`)
  .call(d3.axisTop(x).tickValues(xTicks).tickFormat((d,i)=>topTickLabels[i]).tickSize(0).tickPadding(5));
topAx.select(".domain").remove();
[bottom,left].forEach(g=>{g.select(".domain").attr("stroke","#000").attr("stroke-width",1.4);g.selectAll(".tick line").attr("stroke","#000").attr("stroke-width",1.2);});
bottom.selectAll("text").attr("font-size",30).attr("font-family",null).attr("fill","#000");
left.selectAll("text").attr("font-size",30).attr("font-family",null).attr("fill","#000").attr("dy","0.35em");
topAx.selectAll("text").attr("font-size",26).attr("font-family",null).attr("fill","#000").attr("dx",5);

// titles
svg.append("text").attr("x",81).attr("y",43).attr("font-size",29).attr("textLength",531).attr("lengthAdjust","spacingAndGlyphs").text("Electron recoil calibration (Case data,");
svg.append("text").attr("x",630).attr("y",28).attr("font-size",20).attr("textLength",38).attr("lengthAdjust","spacingAndGlyphs").text("133");
svg.append("text").attr("x",672).attr("y",43).attr("font-size",29).attr("textLength",235).attr("lengthAdjust","spacingAndGlyphs").text("Ba at 2.0 kV/cm)");
svg.append("text").attr("x",319).attr("y",95).attr("font-size",26).attr("textLength",353).attr("lengthAdjust","spacingAndGlyphs").text("Nuclear recoil energy (keVr)");

const yl=svg.append("text").attr("transform","translate(51,346) rotate(-90)").attr("text-anchor","middle").attr("font-size",28);
yl.append("tspan").text("log");
yl.append("tspan").attr("font-size",19).attr("dy",7).text("10");
yl.append("tspan").attr("dy",-7).text("(S2/S1)");

// bottom frame strip
svg.append("rect").attr("x",0).attr("y",653).attr("width",W).attr("height",4).attr("fill","url(#botG)");
</script></body></html>
